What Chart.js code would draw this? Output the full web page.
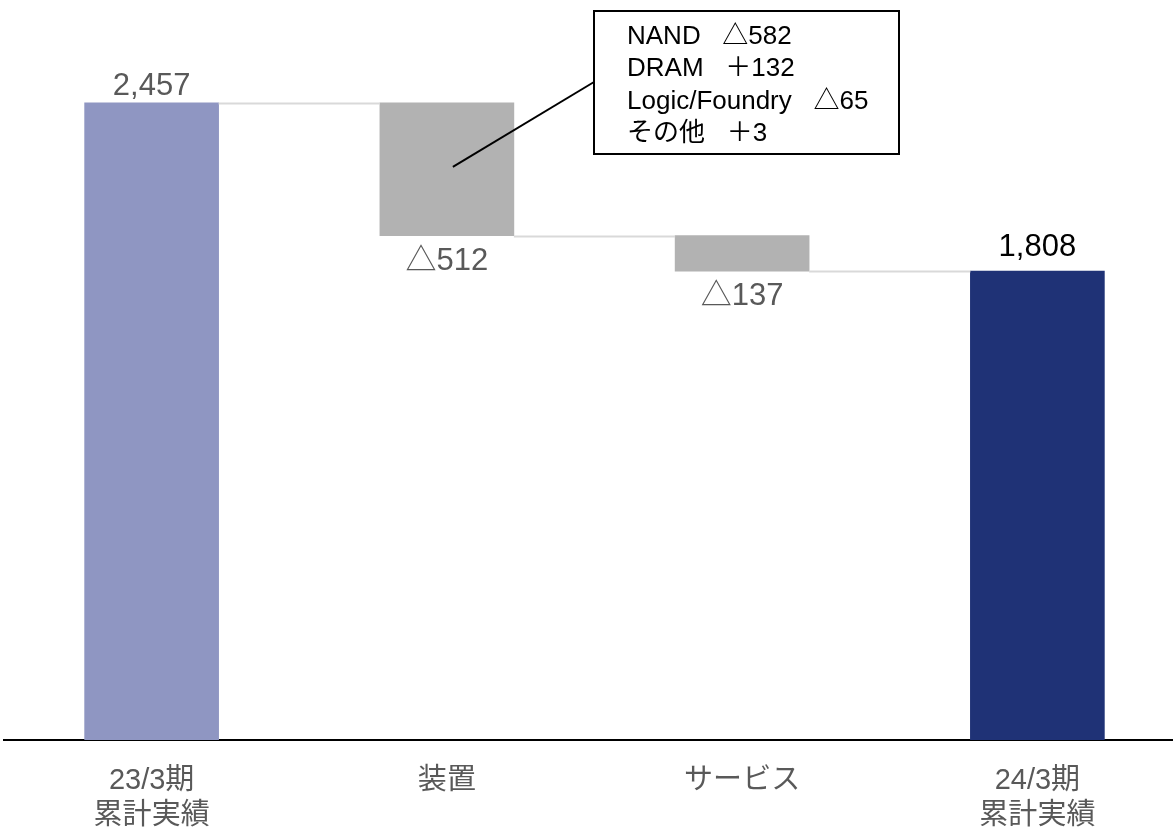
<!DOCTYPE html>
<html lang="ja">
<head>
  <meta charset="UTF-8" />
  <title>営業利益 増減要因</title>
  <script src="https://cdn.jsdelivr.net/npm/chart.js"></script>
  <style>
    html, body { margin: 0; padding: 0; background: #fff; overflow: hidden; }
    #wrap { position: absolute; left: 0; top: 0; width: 1185px; height: 839px; }
  </style>
</head>
<body>
<div id="wrap"><canvas id="chart" width="1185" height="839"></canvas></div>
<script>
  // 値（百万円）
  const categories = [['23/3期', '累計実績'], '装置', 'サービス', ['24/3期', '累計実績']];
  const startValue = 2457;
  const changes = [-512, -137];
  const endValue = 1808;
  const valueLabels = ['2,457', '△512', '△137', '1,808'];
  const calloutLines = ['NAND   △582', 'DRAM   ＋132', 'Logic/Foundry   △65', 'その他   ＋3'];
  const calloutAnchorValue = 2210;

  const barColors = ['#8f96c2', '#b2b2b2', '#b2b2b2', '#1f3276'];
  const labelColors = ['#595959', '#595959', '#595959', '#000000'];
  const FONT = '"Liberation Sans", Arial, "Noto Sans CJK JP", sans-serif';

  // 浮動棒 [下端, 上端]
  const floating = [];
  const totals = [startValue];
  floating.push([0, startValue]);
  let running = startValue;
  changes.forEach(c => {
    const next = running + c;
    floating.push([Math.min(running, next), Math.max(running, next)]);
    running = next;
    totals.push(running);
  });
  floating.push([0, endValue]);

  const waterfallPlugin = {
    id: 'waterfall',
    afterDatasetsDraw(chart) {
      const ctx = chart.ctx;
      const bars = chart.getDatasetMeta(0).data;
      const y = chart.scales.y;

      // つなぎ線
      ctx.save();
      ctx.strokeStyle = '#d9d9d9';
      ctx.lineWidth = 2;
      for (let i = 0; i < bars.length - 1; i++) {
        const py = Math.round(y.getPixelForValue(totals[i])) + 0.5;
        ctx.beginPath();
        ctx.moveTo(bars[i].x + bars[i].width / 2, py);
        ctx.lineTo(bars[i + 1].x - bars[i + 1].width / 2, py);
        ctx.stroke();
      }
      ctx.restore();

      // 値ラベル
      ctx.save();
      ctx.font = '31px ' + FONT;
      ctx.textAlign = 'center';
      ctx.textBaseline = 'alphabetic';
      bars.forEach((bar, i) => {
        const [lo, hi] = floating[i];
        ctx.fillStyle = labelColors[i];
        const negative = i > 0 && i < bars.length - 1;
        if (negative) {
          ctx.fillText(valueLabels[i], bar.x, y.getPixelForValue(lo) + 34);
        } else {
          const gap = i === 0 ? 8 : 15;
          ctx.fillText(valueLabels[i], bar.x, y.getPixelForValue(hi) - gap);
        }
      });
      ctx.restore();

      // 吹き出し
      const bar = bars[1];
      const ax = bar.x + 6;
      const ay = y.getPixelForValue(calloutAnchorValue);
      const box = { left: 594, top: 11, right: 899, bottom: 154 };
      ctx.save();
      ctx.strokeStyle = '#000';
      ctx.lineWidth = 2;
      ctx.beginPath();
      ctx.moveTo(ax, ay);
      ctx.lineTo(box.left, 82);
      ctx.stroke();
      ctx.fillStyle = '#fff';
      ctx.fillRect(box.left, box.top, box.right - box.left, box.bottom - box.top);
      ctx.strokeRect(box.left, box.top, box.right - box.left, box.bottom - box.top);
      ctx.fillStyle = '#000';
      ctx.font = '26px ' + FONT;
      ctx.textAlign = 'left';
      ctx.textBaseline = 'middle';
      calloutLines.forEach((t, i) => ctx.fillText(t, 627, 37 + i * 32.3));
      ctx.restore();
    }
  };

  new Chart(document.getElementById('chart'), {
    type: 'bar',
    data: {
      labels: categories,
      datasets: [{
        data: floating,
        backgroundColor: barColors,
        borderWidth: 0,
        borderSkipped: false,
        barThickness: 134
      }]
    },
    options: {
      responsive: false,
      animation: false,
      layout: { padding: { top: 1, left: 4, right: 0, bottom: 0 } },
      plugins: { legend: { display: false }, tooltip: { enabled: false } },
      scales: {
        x: {
          grid: { display: false, drawTicks: false },
          border: { display: true, color: '#000', width: 2 },
          ticks: {
            color: '#595959',
            padding: 24,
            font: { family: FONT, size: 29, lineHeight: 1.2 },
            maxRotation: 0,
            autoSkip: false
          },
          afterFit(axis) { axis.height = 99; }
        },
        y: {
          display: false,
          min: 0,
          max: 2850
        }
      }
    },
    plugins: [waterfallPlugin]
  });
</script>
</body>
</html>
